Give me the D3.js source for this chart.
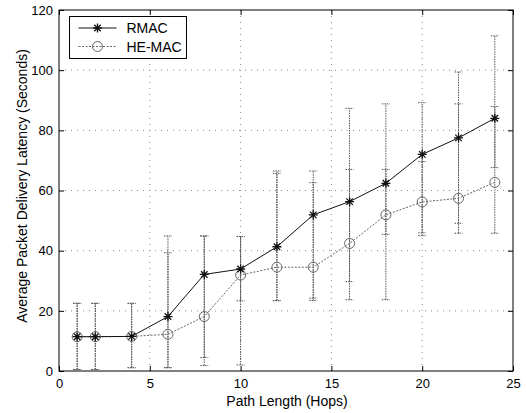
<!DOCTYPE html>
<html>
<head>
<meta charset="utf-8">
<script src="https://cdn.jsdelivr.net/npm/d3@7"></script>
<style>
  body { margin: 0; background: #fff; }
  svg { display: block; font-family: "Liberation Sans", Arial, sans-serif; }
</style>
</head>
<body>
<svg id="chart" width="526" height="413"></svg>
<script>
// Data //
const hops = [1, 2, 4, 6, 8, 10, 12, 14, 16, 18, 20, 22, 24]

const rmac     = [11.4, 11.4, 11.5, 18.1, 32.1, 33.9, 41.3, 51.9, 56.3, 62.4, 72.0, 77.5, 84.0]
const rmacLow  = [0.5, 0.5, 1.1, 1.1, 4.5, 23.3, 23.4, 24.2, 29.7, 45.4, 45.9, 49.1, 67.6]
const rmacHigh = [22.5, 22.5, 22.5, 44.9, 44.9, 44.7, 66.5, 66.5, 87.3, 88.8, 89.2, 99.4, 111.4]

const heMac     = [11.4, 11.4, 11.5, 12.2, 18.1, 31.9, 34.5, 34.5, 42.4, 51.9, 56.2, 57.4, 62.7]
const heMacLow  = [0.5, 0.5, 1.1, 1.1, 1.8, 2.0, 23.4, 23.4, 23.7, 23.7, 45.0, 45.8, 45.8]
const heMacHigh = [22.5, 22.5, 22.5, 39.3, 44.9, 44.7, 65.7, 62.6, 67.0, 67.0, 69.6, 88.8, 87.9]

const xTicks = [0, 5, 10, 15, 20, 25]
const yTicks = [0, 20, 40, 60, 80, 100, 120]

// Layout //
const width = 526
const height = 413
const margin = { top: 10, right: 13, bottom: 42, left: 59 }

const svg = d3.select('#chart')

const x = d3.scaleLinear().domain([0, 25]).range([margin.left, width - margin.right])
const y = d3.scaleLinear().domain([0, 120]).range([height - margin.bottom, margin.top])

const series = [
    { name: 'RMAC', values: rmac, low: rmacLow, high: rmacHigh, marker: 'star',
      stroke: '#111', dash: null },
    { name: 'HE-MAC', values: heMac, low: heMacLow, high: heMacHigh, marker: 'circle',
      stroke: '#666', dash: '2,1.5' },
]

// Grid //
const grid = svg.append('g').attr('class', 'grid')
grid.selectAll('.gx')
    .data(xTicks.slice(1, -1))
    .enter()
    .append('line')
        .attr('x1', d => x(d)).attr('x2', d => x(d))
        .attr('y1', y(0)).attr('y2', y(120))
        .attr('stroke', '#888').attr('stroke-width', 1)
        .attr('stroke-dasharray', '1,5')

grid.selectAll('.gy')
    .data(yTicks.slice(1, -1))
    .enter()
    .append('line')
        .attr('x1', x(0)).attr('x2', x(25))
        .attr('y1', d => y(d)).attr('y2', d => y(d))
        .attr('stroke', '#888').attr('stroke-width', 1)
        .attr('stroke-dasharray', '1,5')

// Axes (matlab style, ticks inside, all four sides) //
const tickLen = 5
const axisStyle = g => {
    g.select('.domain').remove()
    g.selectAll('.tick line').attr('stroke', '#000')
    g.selectAll('.tick text').attr('fill', '#000').attr('font-size', 13)
}

svg.append('g')
    .attr('transform', `translate(0,${y(0)})`)
    .call(d3.axisBottom(x).tickValues(xTicks).tickSizeInner(-tickLen).tickSizeOuter(0).tickPadding(8))
    .call(axisStyle)

svg.append('g')
    .attr('transform', `translate(${x(0)},0)`)
    .call(d3.axisLeft(y).tickValues(yTicks).tickSizeInner(-tickLen).tickSizeOuter(0).tickPadding(6))
    .call(axisStyle)

svg.append('g')
    .attr('transform', `translate(0,${y(120)})`)
    .call(d3.axisTop(x).tickValues(xTicks).tickSizeInner(-tickLen).tickSizeOuter(0).tickFormat(''))
    .call(axisStyle)

svg.append('g')
    .attr('transform', `translate(${x(25)},0)`)
    .call(d3.axisRight(y).tickValues(yTicks).tickSizeInner(-tickLen).tickSizeOuter(0).tickFormat(''))
    .call(axisStyle)

svg.append('rect')
    .attr('x', x(0)).attr('y', y(120))
    .attr('width', x(25) - x(0)).attr('height', y(0) - y(120))
    .attr('fill', 'none').attr('stroke', '#000').attr('stroke-width', 1)

// Error bars //
const capHalf = 4
series.forEach(s => {
    const bars = svg.append('g').attr('class', 'errorbars')
    hops.forEach((h, i) => {
        const cx = x(h)
        bars.append('line')
            .attr('x1', cx).attr('x2', cx)
            .attr('y1', y(s.low[i])).attr('y2', y(s.high[i]))
        ;[s.low[i], s.high[i]].forEach(v => {
            bars.append('line')
                .attr('x1', cx - capHalf).attr('x2', cx + capHalf)
                .attr('y1', y(v)).attr('y2', y(v))
        })
    })
    bars.selectAll('line')
        .attr('stroke', '#555').attr('stroke-width', 1)
        .attr('stroke-dasharray', '1.5,1')
})

// Lines and markers //
const line = d3.line().x(d => x(d[0])).y(d => y(d[1]))

const starPath = (cx, cy, r) => {
    const d = r * 0.72
    return `M${cx - r},${cy}H${cx + r}M${cx},${cy - r}V${cy + r}` +
        `M${cx - d},${cy - d}L${cx + d},${cy + d}M${cx - d},${cy + d}L${cx + d},${cy - d}`
}

const drawMarker = (g, s, cx, cy) => {
    if (s.marker === 'star') {
        g.append('path')
            .attr('d', starPath(cx, cy, 4.5))
            .attr('stroke', s.stroke).attr('stroke-width', 1.3).attr('fill', 'none')
    } else {
        g.append('circle')
            .attr('cx', cx).attr('cy', cy).attr('r', 5)
            .attr('stroke', s.stroke).attr('stroke-width', 1).attr('fill', 'none')
    }
}

series.slice().reverse().forEach(s => {
    const pts = hops.map((h, i) => [h, s.values[i]])
    svg.append('path')
        .datum(pts)
        .attr('d', line)
        .attr('fill', 'none')
        .attr('stroke', s.stroke).attr('stroke-width', 1)
        .attr('stroke-dasharray', s.dash)
    const g = svg.append('g')
    pts.forEach(p => drawMarker(g, s, x(p[0]), y(p[1])))
})

// Legend //
const legend = svg.append('g').attr('transform', 'translate(69.5,16.5)')
legend.append('rect')
    .attr('width', 117).attr('height', 42)
    .attr('fill', '#fff').attr('stroke', '#000').attr('stroke-width', 1)

series.forEach((s, i) => {
    const ly = 11.5 + i * 18.5
    legend.append('line')
        .attr('x1', 9).attr('x2', 47)
        .attr('y1', ly).attr('y2', ly)
        .attr('stroke', s.stroke).attr('stroke-width', 1)
        .attr('stroke-dasharray', s.dash)
    drawMarker(legend, s, 28, ly)
    legend.append('text')
        .attr('x', 57).attr('y', ly + 5)
        .attr('font-size', 14)
        .text(s.name)
})

// Axis titles //
svg.append('text')
    .attr('x', 287).attr('y', 406)
    .attr('text-anchor', 'middle').attr('font-size', 14)
    .text('Path Length (Hops)')

svg.append('text')
    .attr('transform', 'translate(26.5,186) rotate(-90)')
    .attr('text-anchor', 'middle').attr('font-size', 14)
    .text('Average Packet Delivery Latency (Seconds)')
</script>
</body>
</html>
